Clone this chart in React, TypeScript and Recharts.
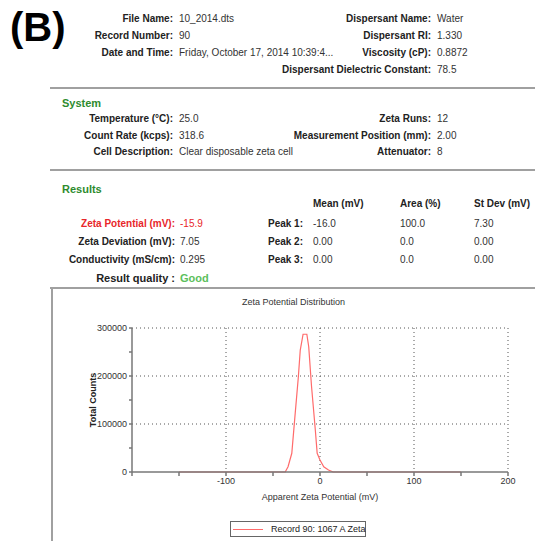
import React from 'react';
import { LineChart, Line, XAxis, YAxis, CartesianGrid } from 'recharts';

// zeta potential distribution
const potentials = [-150, -37, -34, -30, -27, -23, -21, -18, -14, -12, -9, -5, -3, 0, 4, 9, 14, 150];
const counts = [0, 0, 11000, 39000, 108000, 199000, 254000, 287000, 287000, 261000, 178000, 88000, 39000, 25000, 11000, 4000, 0, 0];

const xTicks = [-200, -150, -100, -50, 0, 50, 100, 150, 200];
const yTicks = [0, 50000, 100000, 150000, 200000, 250000, 300000];
const xGrid = [-100, 0, 100, 200];
const yGrid = [100000, 200000, 300000];

const headerLeft = [
  ['File Name:', '10_2014.dts'],
  ['Record Number:', '90'],
  ['Date and Time:', 'Friday, October 17, 2014 10:39:4...'],
];
const headerRight = [
  ['Dispersant Name:', 'Water'],
  ['Dispersant RI:', '1.330'],
  ['Viscosity (cP):', '0.8872'],
  ['Dispersant Dielectric Constant:', '78.5'],
];
const systemLeft = [
  ['Temperature (°C):', '25.0'],
  ['Count Rate (kcps):', '318.6'],
  ['Cell Description:', 'Clear disposable zeta cell'],
];
const systemRight = [
  ['Zeta Runs:', '12'],
  ['Measurement Position (mm):', '2.00'],
  ['Attenuator:', '8'],
];
const resultLeft = [
  ['Zeta Potential (mV):', '-15.9'],
  ['Zeta Deviation (mV):', '7.05'],
  ['Conductivity (mS/cm):', '0.295'],
];
const peakNames = ['Peak 1:', 'Peak 2:', 'Peak 3:'];
const peakMean = ['-16.0', '0.00', '0.00'];
const peakArea = ['100.0', '0.0', '0.0'];
const peakStdev = ['7.30', '0.00', '0.00'];

const data = potentials.map((p, i) => ({ mv: p, total: counts[i] }));

const FONT = '"Liberation Sans", Arial, sans-serif';

function Txt(props: any) {
  const { x, right, y, children, bold, color, size } = props;
  const style: any = {
    position: 'absolute',
    top: y - 6,
    fontSize: size || 10,
    lineHeight: '12px',
    fontWeight: bold ? 'bold' : 'normal',
    color: color || '#333',
    whiteSpace: 'nowrap',
  };
  if (right !== undefined) {
    style.right = 535 - right;
    style.textAlign = 'right';
  } else {
    style.left = x;
  }
  return <div style={style}>{children}</div>;
}

function Rows(props: any) {
  const { rows, rx, vx, y0, step, colors } = props;
  return (
    <>
      {rows.map((r: string[], i: number) => (
        <React.Fragment key={i}>
          <Txt right={rx} y={y0 + i * step} bold color={colors?.[i] || '#222'}>{r[0]}</Txt>
          <Txt x={vx} y={y0 + i * step} color={colors?.[i] || '#333'}>{r[1]}</Txt>
        </React.Fragment>
      ))}
    </>
  );
}

const Sep = ({ y }: { y: number }) => (
  <div style={{ position: 'absolute', left: 50, top: y, width: 485, height: 2, background: '#a0a0a0' }} />
);

export default function App() {
  return (
    <div style={{ position: 'absolute', left: 0, top: 0, width: 535, height: 541, background: '#fff', fontFamily: FONT, overflow: 'hidden' }}>
      <div style={{ position: 'absolute', left: 10, top: 4, fontSize: 40, fontWeight: 'bold', lineHeight: '46px', color: '#000' }}>(B)</div>

      <Rows rows={headerLeft} rx={173} vx={179} y0={19} step={17} />
      <Rows rows={headerRight} rx={431} vx={437} y0={19} step={17} />
      <Sep y={87} />

      <Txt x={62} y={103} bold size={11} color="#2e8b2e">System</Txt>
      <Rows rows={systemLeft} rx={173} vx={179} y0={119} step={16.5} />
      <Rows rows={systemRight} rx={431} vx={437} y0={119} step={16.5} />
      <Sep y={169} />

      <Txt x={62} y={189} bold size={11} color="#2e8b2e">Results</Txt>
      <Txt x={313} y={204} bold color="#222">Mean (mV)</Txt>
      <Txt x={400} y={204} bold color="#222">Area (%)</Txt>
      <Txt x={474} y={204} bold color="#222">St Dev (mV)</Txt>
      <Rows rows={resultLeft} rx={175} vx={180} y0={224} step={18} colors={['#e8262a']} />
      <Txt right={175} y={278} bold size={11} color="#222">Result quality :</Txt>
      <Txt x={180} y={278} bold size={11} color="#5cc05c">Good</Txt>
      {peakNames.map((n, i) => (
        <React.Fragment key={n}>
          <Txt right={303} y={224 + i * 18} bold color="#222">{n}</Txt>
          <Txt x={313} y={224 + i * 18}>{peakMean[i]}</Txt>
          <Txt x={400} y={224 + i * 18}>{peakArea[i]}</Txt>
          <Txt x={474} y={224 + i * 18}>{peakStdev[i]}</Txt>
        </React.Fragment>
      ))}
      <Sep y={287} />

      <div style={{ position: 'absolute', left: 51, top: 289, width: 2, height: 260, background: '#a0a0a0' }} />
      <div style={{ position: 'absolute', left: 52, top: 297, width: 483, textAlign: 'center', fontSize: 9, color: '#333' }}>
        Zeta Potential Distribution
      </div>

      <div style={{ position: 'absolute', left: 52, top: 290 }}>
        <LineChart width={483} height={251} data={data} margin={{ top: 38, right: 27, left: 0, bottom: 39 }}>
          <CartesianGrid
            stroke="#555"
            strokeDasharray="1 3"
            horizontalValues={yGrid}
            verticalValues={xGrid}
          />
          <XAxis
            dataKey="mv"
            type="number"
            domain={[-200, 200]}
            ticks={xTicks}
            interval={0}
            tickFormatter={(v: number) => (v % 100 === 0 && v !== -200 ? String(v) : '')}
            tick={{ fontSize: 9, fill: '#333', fontFamily: FONT }}
            stroke="#777"
            strokeWidth={1.5}
            tickSize={4}
            height={30}
            label={{ value: 'Apparent Zeta Potential (mV)', position: 'insideBottom', offset: 2, fontSize: 9, fill: '#333', fontFamily: FONT }}
          />
          <YAxis
            type="number"
            domain={[0, 300000]}
            ticks={yTicks}
            interval={0}
            tickFormatter={(v: number) => (v % 100000 === 0 ? String(v) : '')}
            tick={{ fontSize: 9, fill: '#333', fontFamily: FONT }}
            stroke="#777"
            strokeWidth={1.5}
            tickSize={3}
            width={80}
            label={{ value: 'Total Counts', angle: -90, position: 'insideLeft', offset: 41, fontSize: 9, fontWeight: 'bold', fill: '#222', fontFamily: FONT, style: { textAnchor: 'middle' } }}
          />
          <Line
            type="linear"
            dataKey="total"
            stroke="#ff6b6b"
            strokeWidth={1.2}
            dot={false}
            isAnimationActive={false}
          />
        </LineChart>
      </div>

      <div style={{ position: 'absolute', left: 230, top: 521, width: 134, height: 14, border: '1px solid #666', fontSize: 9, color: '#222', whiteSpace: 'nowrap' }}>
        <div style={{ position: 'absolute', left: 2, top: 7, width: 30, height: 1, background: '#ff6b6b' }} />
        <div style={{ position: 'absolute', left: 40, top: 1, lineHeight: '12px', whiteSpace: 'nowrap' }}>Record 90: 1067 A Zeta</div>
      </div>
    </div>
  );
}
